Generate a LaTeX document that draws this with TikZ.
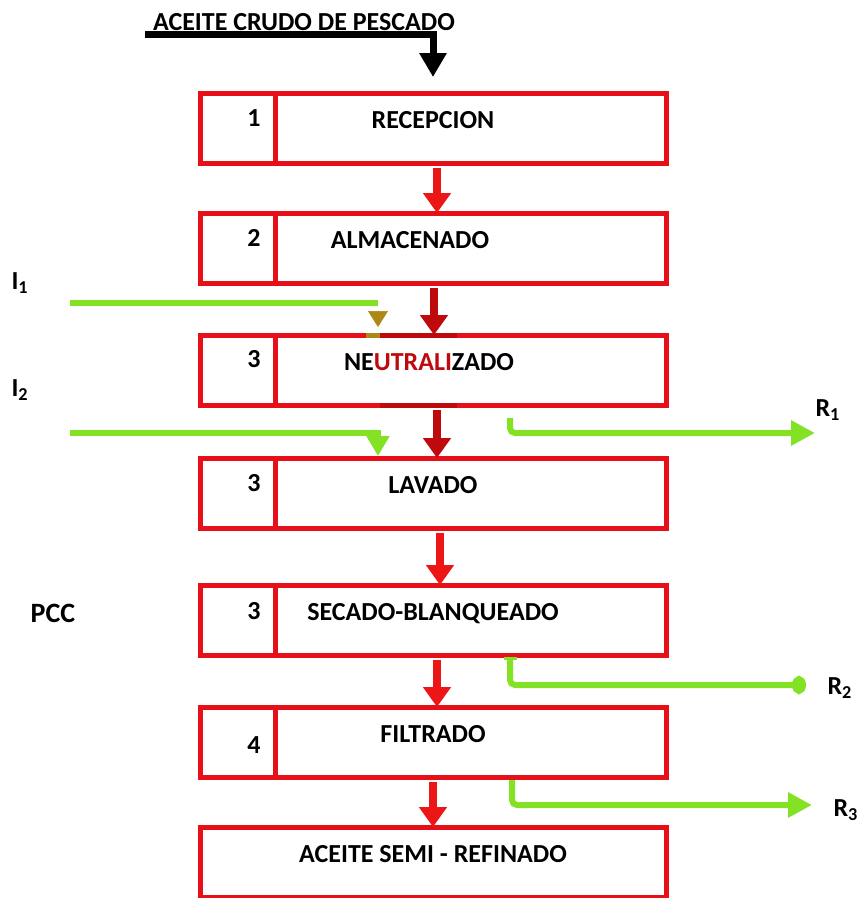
\documentclass[tikz,border=0pt]{standalone}
\usepackage{fontspec}
\setmainfont{Carlito}
\usetikzlibrary{arrows.meta,positioning}

\definecolor{boxred}{RGB}{232,16,24}
\definecolor{flowred}{RGB}{236,22,22}
\definecolor{darkflowred}{RGB}{190,10,12}
\definecolor{limegreen}{RGB}{132,226,36}
\definecolor{tipolive}{RGB}{172,136,22}

\begin{document}
\begin{tikzpicture}[
    x=1pt, y=-1pt,
    stepbox/.style={rectangle, draw=boxred, line width=5pt, outer sep=0pt, minimum width=466pt, minimum height=70pt, text depth=17pt, font=\fontsize{26}{30}\selectfont\bfseries},
    divider/.style={draw=boxred, line width=5pt},
    numlabel/.style={font=\fontsize{26}{30}\selectfont\bfseries},
    sidelabel/.style={font=\fontsize{26}{30}\selectfont\bfseries, anchor=west},
    flow/.style={-{Triangle[width=27pt,length=20pt]}, line width=8pt, color=flowred, shorten <=5pt},
    darkflow/.style={flow, color=darkflowred},
    feed/.style={-{Triangle[width=26pt,length=24pt]}, line width=7pt, black},
    inline/.style={line width=6pt, color=limegreen},
    inarrow/.style={-{Triangle[width=22pt,length=20pt]}, line width=6pt, color=limegreen, shorten >=2pt},
    olivetip/.style={-{Triangle[width=20pt,length=16pt]}, line width=0.5pt, color=tipolive, shorten <=8pt, shorten >=8pt},
    outarrow/.style={-{Triangle[width=24pt,length=24pt]}, line width=6pt, color=limegreen, rounded corners=5pt}
]
\useasboundingbox (0,0) rectangle (868,898);

% Process steps
\node[stepbox] (recepcion) at (433,128) {RECEPCION};
\node[stepbox, below=50pt of recepcion] (almacenado) {ALMACENADO\hspace*{46pt}};
\node[stepbox, below=52pt of almacenado] (neutralizado) {NE\textcolor{darkflowred}{UTRALI}ZADO\hspace*{8pt}};
\node[stepbox, below=53pt of neutralizado] (lavado) {LAVADO};
\node[stepbox, below=57pt of lavado] (secado) {SECADO-BLANQUEADO};
\node[stepbox, below=52pt of secado] (filtrado) {FILTRADO};
\node[stepbox, below=50pt of filtrado] (semirefinado) {ACEITE SEMI - REFINADO};

% Step numbers
\foreach \b/\n/\dy in {recepcion/1/10, almacenado/2/10, neutralizado/3/11, lavado/3/10, secado/3/9, filtrado/4/-3} {
    \draw[divider] ([xshift=75pt]\b.north west) -- ([xshift=75pt]\b.south west);
    \node[numlabel] (num-\b) at ([xshift=54pt,yshift=\dy pt]\b.west) {\n};
}

% Marked edges of the neutralizing step
\draw[line width=5pt, tipolive] ([xshift=-67pt]neutralizado.north) -- ([xshift=-53pt]neutralizado.north);
\draw[line width=5pt, darkflowred] ([xshift=-53pt]neutralizado.north) -- ([xshift=24pt]neutralizado.north);
\draw[line width=5pt, darkflowred] ([xshift=-53pt]neutralizado.south) -- ([xshift=24pt]neutralizado.south);

% Raw oil feed
\coordinate (crudostart) at (145,34);
\draw[feed, shorten >=16pt] (crudostart) -| (recepcion.north);
\node[font=\fontsize{26}{30}\selectfont\bfseries, anchor=base] (crudo) at (304,30) {ACEITE CRUDO DE PESCADO};

% Main flow arrows
\draw[flow] ([xshift=4pt]recepcion.south) -- ([xshift=4pt]almacenado.north);
\draw[darkflow] ([xshift=1pt]almacenado.south) -- ([xshift=1pt]neutralizado.north);
\draw[darkflow] ([xshift=4pt]neutralizado.south) -- ([xshift=4pt]lavado.north);
\draw[flow] ([xshift=7pt]lavado.south) -- ([xshift=7pt]secado.north);
\draw[flow] ([xshift=4pt]secado.south) -- ([xshift=4pt]filtrado.north);
\draw[flow] (filtrado.south) -- (semirefinado.north);

% Inputs
\node[sidelabel] (i1) at (8,283) {I\textsubscript{1}};
\coordinate (i1start) at (70,303);
\coordinate (i1end) at (378,303);
\draw[inline] (i1start) -- (i1end);
\draw[olivetip] (i1end) -- (i1end |- neutralizado.north);

\node[sidelabel] (i2) at (8,390) {I\textsubscript{2}};
\coordinate (i2start) at (70,433);
\draw[inarrow] (i2start) -| ([xshift=-55pt]lavado.north);

% Residues
\coordinate (r1end) at (815,433);
\draw[outarrow] ([xshift=77pt,yshift=-13pt]neutralizado.south) |- (r1end);
\node[sidelabel] (r1) at (812,410) {R\textsubscript{1}};

\coordinate (r2end) at (806,685);
\draw[outarrow, arrows={Bar[width=13pt,line width=3pt]-Circle[width=18pt,length=14pt]}] ([xshift=77pt,yshift=-2pt]secado.south) |- (r2end);
\node[sidelabel] (r2) at (824,688) {R\textsubscript{2}};

\coordinate (r3end) at (812,805);
\draw[outarrow] ([xshift=79pt,yshift=-3pt]filtrado.south) |- (r3end);
\node[sidelabel] (r3) at (830,810) {R\textsubscript{3}};

% Critical control point
\node[font=\fontsize{28}{32}\selectfont\bfseries] (pcc) at (53,613) {PCC};

\end{tikzpicture}
\end{document}
